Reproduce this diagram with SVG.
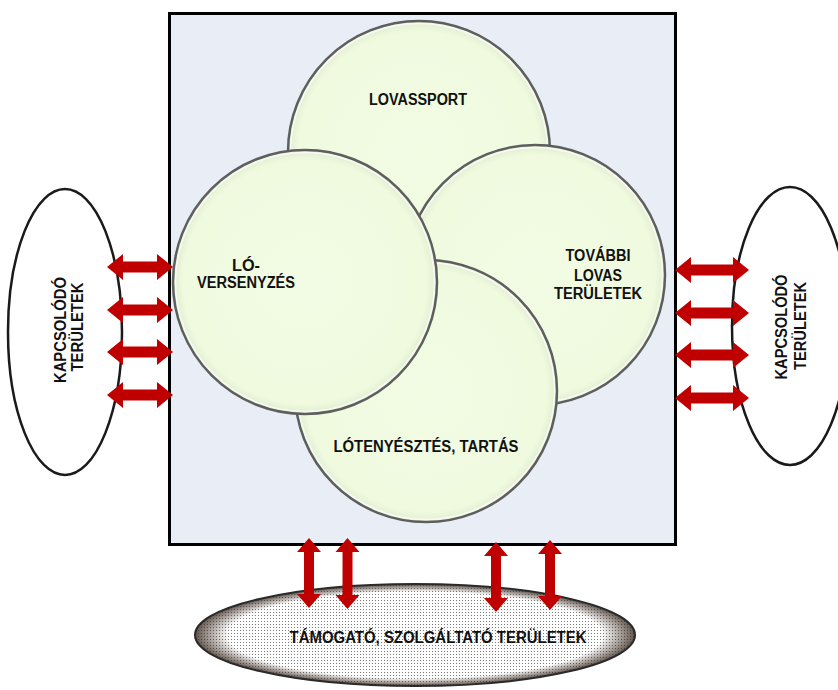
<svg xmlns="http://www.w3.org/2000/svg" width="838" height="690" viewBox="0 0 838 690">
<style>
.lbl{font-family:"Liberation Sans",Arial,sans-serif;font-weight:bold;font-size:16px;fill:#111;text-anchor:middle}
.circ{fill:url(#cg);stroke:#5e5e5e;stroke-width:2.5}
.hl{fill:none;stroke:#ffffff;stroke-opacity:0.7;stroke-width:1.5}
.side{fill:#ffffff;stroke:#1a1a1a;stroke-width:2.5}
.arr{fill:#c00000}
</style>
<defs>
<radialGradient id="cg" cx="50%" cy="50%" r="50%">
<stop offset="0" stop-color="#f2fce4"/>
<stop offset="0.92" stop-color="#effadf"/>
<stop offset="1" stop-color="#e2ecd2"/>
</radialGradient>
<pattern id="dots" width="3" height="3" patternUnits="userSpaceOnUse">
<rect width="3" height="3" fill="#ffffff"/>
<rect width="1" height="1" fill="#7a7a7a"/>
</pattern>
<radialGradient id="edge" cx="50%" cy="50%" r="50%">
<stop offset="0.85" stop-color="#3a2a20" stop-opacity="0"/>
<stop offset="1" stop-color="#3a2a20" stop-opacity="0.8"/>
</radialGradient>
</defs>
<rect x="0" y="0" width="838" height="690" fill="#ffffff"/>

<g id="frame">
<rect x="169.5" y="13.5" width="506" height="531" fill="#e9eef6" stroke="#000000" stroke-width="3"/>
</g>

<g id="lovassport">
<circle class="circ" cx="419" cy="152" r="131"/>
<circle class="hl" cx="419" cy="152" r="128.5"/>
<text class="lbl" x="418" y="105" textLength="98" lengthAdjust="spacingAndGlyphs">LOVASSPORT</text>
</g>

<g id="tovabbi">
<circle class="circ" cx="535" cy="275" r="130"/>
<circle class="hl" cx="535" cy="275" r="127.5"/>
<text class="lbl" x="598" y="261" textLength="65" lengthAdjust="spacingAndGlyphs">TOVÁBBI</text>
<text class="lbl" x="598" y="281" textLength="48" lengthAdjust="spacingAndGlyphs">LOVAS</text>
<text class="lbl" x="598" y="299" textLength="88" lengthAdjust="spacingAndGlyphs">TERÜLETEK</text>
</g>

<g id="lotenyesztes">
<circle class="circ" cx="426" cy="391" r="131"/>
<circle class="hl" cx="426" cy="391" r="128.5"/>
<text class="lbl" x="426" y="452" textLength="185" lengthAdjust="spacingAndGlyphs">LÓTENYÉSZTÉS, TARTÁS</text>
</g>

<g id="loversenyzes">
<circle class="circ" cx="305" cy="282" r="132"/>
<circle class="hl" cx="305" cy="282" r="129.5"/>
<text class="lbl" x="246" y="271" textLength="28" lengthAdjust="spacingAndGlyphs">LÓ-</text>
<text class="lbl" x="246" y="288" textLength="98" lengthAdjust="spacingAndGlyphs">VERSENYZÉS</text>
</g>

<g id="kapcsolodo-bal">
<ellipse class="side" cx="65" cy="332" rx="57" ry="143"/>
<text class="lbl" transform="translate(66,330) rotate(-90)" textLength="106" lengthAdjust="spacingAndGlyphs">KAPCSOLÓDÓ</text>
<text class="lbl" transform="translate(83,327) rotate(-90)" textLength="89" lengthAdjust="spacingAndGlyphs">TERÜLETEK</text>
</g>

<g id="kapcsolodo-jobb">
<ellipse class="side" cx="790" cy="326" rx="58" ry="139"/>
<text class="lbl" transform="translate(787,327) rotate(-90)" textLength="105" lengthAdjust="spacingAndGlyphs">KAPCSOLÓDÓ</text>
<text class="lbl" transform="translate(806,326) rotate(-90)" textLength="88" lengthAdjust="spacingAndGlyphs">TERÜLETEK</text>
</g>

<g id="tamogato">
<ellipse cx="415" cy="635" rx="220" ry="51" fill="url(#dots)"/>
<ellipse cx="415" cy="635" rx="220" ry="51" fill="url(#edge)" stroke="#2a2a2a" stroke-width="2"/>
<text class="lbl" x="438" y="643" textLength="297" lengthAdjust="spacingAndGlyphs">TÁMOGATÓ, SZOLGÁLTATÓ TERÜLETEK</text>
</g>

<g id="connectors">
<path class="arr" d="M107,267 L123,254 L123,261.5 L157,261.5 L157,254 L173,267 L157,280 L157,272.5 L123,272.5 L123,280 Z"/>
<path class="arr" d="M107,310 L123,297 L123,304.5 L157,304.5 L157,297 L173,310 L157,323 L157,315.5 L123,315.5 L123,323 Z"/>
<path class="arr" d="M107,352 L123,339 L123,346.5 L157,346.5 L157,339 L173,352 L157,365 L157,357.5 L123,357.5 L123,365 Z"/>
<path class="arr" d="M107,395 L123,382 L123,389.5 L157,389.5 L157,382 L173,395 L157,408 L157,400.5 L123,400.5 L123,408 Z"/>
<path class="arr" d="M675,270 L691,257 L691,264.5 L733,264.5 L733,257 L749,270 L733,283 L733,275.5 L691,275.5 L691,283 Z"/>
<path class="arr" d="M675,313 L691,300 L691,307.5 L733,307.5 L733,300 L749,313 L733,326 L733,318.5 L691,318.5 L691,326 Z"/>
<path class="arr" d="M675,355 L691,342 L691,349.5 L733,349.5 L733,342 L749,355 L733,368 L733,360.5 L691,360.5 L691,368 Z"/>
<path class="arr" d="M675,398 L691,385 L691,392.5 L733,392.5 L733,385 L749,398 L733,411 L733,403.5 L691,403.5 L691,411 Z"/>
<path class="arr" d="M309,538 L321,552 L314,552 L314,594 L321,594 L309,608 L297,594 L304,594 L304,552 L297,552 Z"/>
<path class="arr" d="M347.5,538 L359.5,552 L352.5,552 L352.5,595 L359.5,595 L347.5,609 L335.5,595 L342.5,595 L342.5,552 L335.5,552 Z"/>
<path class="arr" d="M496,542 L508,556 L501,556 L501,598 L508,598 L496,612 L484,598 L491,598 L491,556 L484,556 Z"/>
<path class="arr" d="M550,540 L562,554 L555,554 L555,596 L562,596 L550,610 L538,596 L545,596 L545,554 L538,554 Z"/>
</g>
</svg>
